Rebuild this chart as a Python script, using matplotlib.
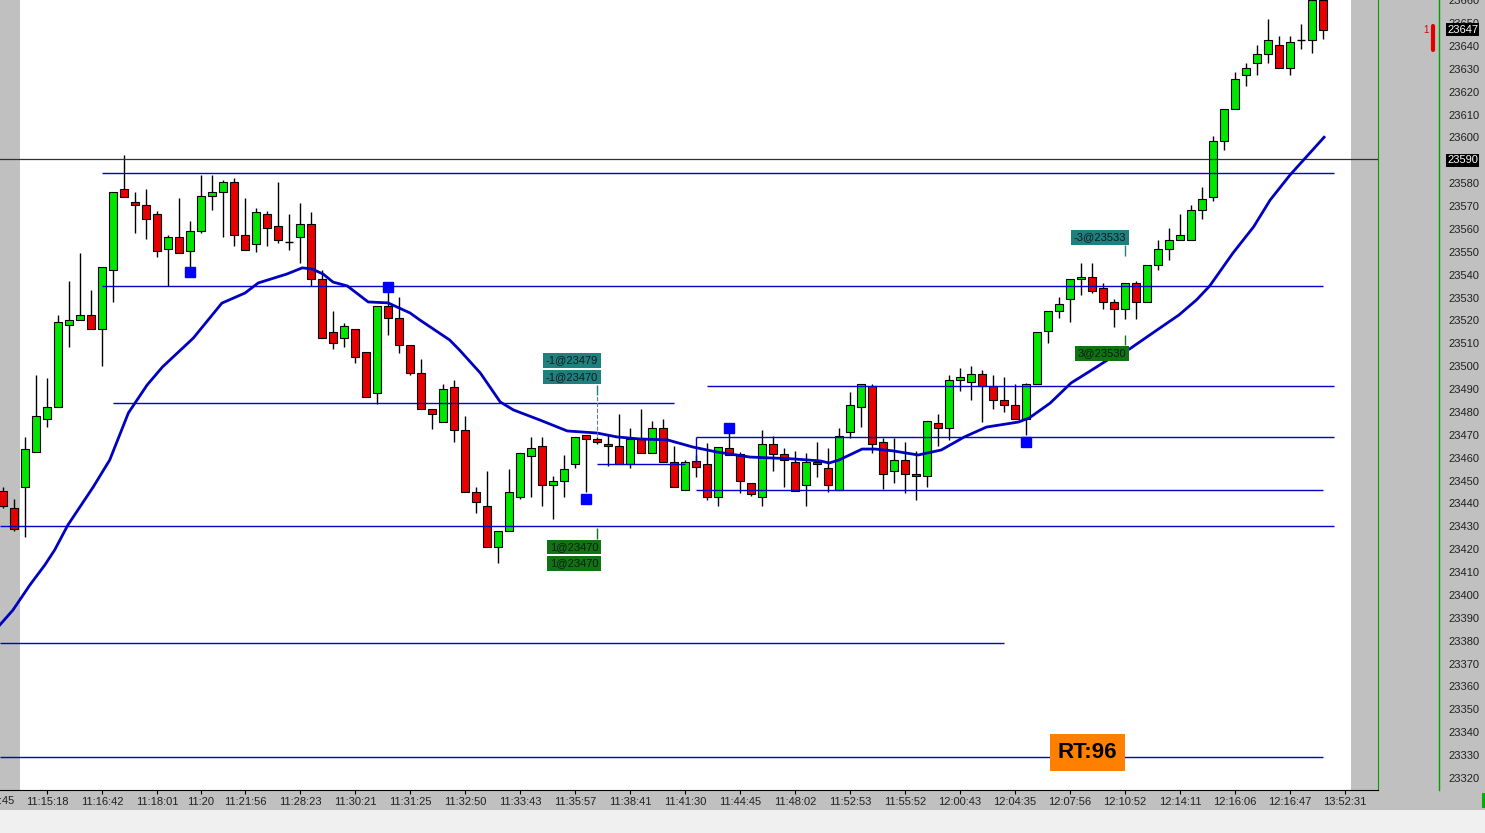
import matplotlib
matplotlib.use("Agg")
import matplotlib.pyplot as plt
from matplotlib.patches import Rectangle
from matplotlib.lines import Line2D
from matplotlib.transforms import blended_transform_factory

plt.rcParams['font.family'] = ['Liberation Sans', 'DejaVu Sans']

# OHLC per bar
opens = [23445.5, 23438.0, 23447.0, 23462.6, 23477.0, 23482.0, 23518.0, 23520.0, 23522.3, 23516.2,
         23542.0, 23577.4, 23572.0, 23570.3, 23566.4, 23551.1, 23556.4, 23550.2, 23559.0, 23574.3,
         23576.0, 23580.4, 23557.2, 23553.4, 23566.4, 23561.2, 23554.3, 23556.4, 23562.0, 23538.0,
         23515.1, 23512.2, 23516.2, 23506.1, 23488.2, 23526.3, 23521.0, 23509.2, 23496.9, 23481.2,
         23475.8, 23491.1, 23472.1, 23444.9, 23438.9, 23420.8, 23427.8, 23442.7, 23460.9, 23465.0,
         23448.0, 23449.7, 23457.1, 23469.8, 23468.2, 23465.9, 23465.0, 23457.1, 23468.3, 23461.9,
         23472.9, 23458.0, 23445.8, 23458.7, 23457.3, 23442.7, 23464.1, 23461.8, 23448.8, 23442.7,
         23465.9, 23461.8, 23458.0, 23448.0, 23458.1, 23455.6, 23445.9, 23471.1, 23482.0, 23491.4,
         23466.8, 23454.0, 23459.0, 23452.8, 23451.9, 23475.1, 23472.9, 23493.8, 23493.0, 23496.7,
         23491.2, 23485.1, 23482.9, 23476.8, 23492.1, 23515.3, 23524.0, 23529.3, 23538.0, 23539.1,
         23534.1, 23528.0, 23524.9, 23536.3, 23528.0, 23544.1, 23551.1, 23555.1, 23555.1, 23568.2,
         23574.1, 23598.3, 23612.3, 23627.2, 23632.4, 23636.3, 23640.3, 23630.2, 23642.5, 23642.5,
         23660.0]
highs = [23447.0, 23442.0, 23469.0, 23496.0, 23495.0, 23522.4, 23537.3, 23549.4, 23533.3, 23543.3,
         23576.0, 23592.3, 23576.0, 23577.4, 23568.0, 23557.4, 23573.4, 23563.5, 23583.6, 23583.6,
         23581.4, 23582.2, 23573.4, 23569.0, 23568.0, 23580.4, 23566.4, 23571.5, 23567.4, 23542.1,
         23524.0, 23519.0, 23516.2, 23506.1, 23526.3, 23532.6, 23530.4, 23509.2, 23503.2, 23481.2,
         23492.2, 23494.0, 23478.3, 23447.3, 23454.2, 23427.8, 23455.1, 23461.9, 23469.2, 23469.2,
         23452.0, 23461.1, 23469.1, 23469.8, 23469.0, 23470.2, 23479.1, 23473.0, 23481.2, 23476.1,
         23476.9, 23465.1, 23459.0, 23461.2, 23466.6, 23464.8, 23470.7, 23462.5, 23448.8, 23472.1,
         23469.6, 23464.4, 23463.0, 23461.9, 23466.9, 23464.1, 23472.9, 23488.9, 23492.1, 23492.1,
         23468.5, 23468.5, 23467.0, 23463.0, 23475.9, 23479.0, 23496.2, 23499.1, 23500.1, 23498.4,
         23496.2, 23495.4, 23492.1, 23492.8, 23515.1, 23524.0, 23530.1, 23538.0, 23545.3, 23545.3,
         23536.3, 23529.3, 23536.3, 23537.4, 23544.1, 23555.2, 23560.4, 23566.7, 23570.5, 23578.2,
         23600.7, 23612.3, 23628.8, 23632.4, 23640.4, 23651.8, 23644.4, 23644.4, 23649.6, 23661.0,
         23661.0]
lows = [23438.0, 23428.0, 23425.5, 23462.6, 23473.3, 23482.0, 23508.3, 23520.0, 23516.2, 23500.2,
        23528.2, 23574.0, 23558.4, 23555.5, 23547.6, 23535.1, 23549.4, 23542.8, 23558.4, 23568.3,
        23556.6, 23552.7, 23550.8, 23549.8, 23552.7, 23553.7, 23550.8, 23545.3, 23535.1, 23512.2,
        23507.4, 23508.5, 23501.3, 23486.7, 23483.5, 23513.7, 23505.7, 23496.0, 23481.2, 23472.4,
        23475.5, 23467.0, 23444.9, 23436.0, 23420.8, 23414.1, 23427.8, 23442.1, 23443.0, 23438.9,
        23433.1, 23443.0, 23455.4, 23444.9, 23466.0, 23456.4, 23457.1, 23455.4, 23461.9, 23461.9,
        23458.0, 23447.2, 23445.8, 23451.7, 23441.5, 23439.0, 23461.1, 23444.5, 23443.3, 23439.0,
        23454.3, 23447.3, 23445.6, 23439.0, 23451.5, 23445.2, 23445.9, 23468.5, 23473.6, 23461.9,
        23446.2, 23449.1, 23444.5, 23441.5, 23447.3, 23465.3, 23467.8, 23489.3, 23485.2, 23475.5,
        23481.3, 23480.0, 23476.8, 23470.0, 23492.1, 23510.3, 23521.2, 23519.5, 23531.1, 23532.0,
        23525.0, 23517.3, 23520.5, 23520.5, 23528.0, 23542.1, 23546.4, 23555.1, 23555.1, 23564.5,
        23572.4, 23594.7, 23612.3, 23622.7, 23627.5, 23632.7, 23630.2, 23627.5, 23638.8, 23636.8,
        23642.9]
closes = [23439.0, 23428.7, 23464.0, 23478.3, 23482.0, 23519.2, 23520.0, 23522.3, 23516.2, 23543.3,
          23576.0, 23574.1, 23570.3, 23564.2, 23550.2, 23556.4, 23549.4, 23559.1, 23574.3, 23576.0,
          23580.4, 23557.2, 23550.8, 23567.3, 23560.3, 23555.2, 23554.3, 23562.0, 23538.0, 23512.2,
          23510.0, 23517.7, 23503.9, 23486.7, 23526.3, 23521.0, 23509.2, 23496.9, 23481.2, 23479.0,
          23489.9, 23472.1, 23444.9, 23440.8, 23420.8, 23427.8, 23444.9, 23461.9, 23464.3, 23448.0,
          23449.7, 23454.9, 23469.1, 23468.1, 23466.8, 23465.0, 23457.1, 23468.2, 23461.9, 23472.9,
          23458.0, 23447.2, 23458.0, 23455.8, 23442.7, 23464.8, 23461.1, 23449.7, 23444.0, 23465.9,
          23461.8, 23458.9, 23445.6, 23458.0, 23457.3, 23448.0, 23469.6, 23483.1, 23492.1, 23465.9,
          23452.8, 23459.0, 23452.8, 23451.9, 23475.9, 23472.9, 23493.8, 23495.2, 23496.7, 23491.5,
          23485.1, 23482.9, 23476.8, 23492.1, 23515.1, 23524.0, 23527.1, 23538.0, 23539.1, 23533.0,
          23528.0, 23524.9, 23536.3, 23528.0, 23544.1, 23551.1, 23555.1, 23557.4, 23568.2, 23573.3,
          23598.3, 23612.3, 23625.4, 23630.2, 23636.3, 23642.5, 23630.2, 23641.6, 23642.5, 23660.0,
          23647.2]

# moving average line, read at points along the curve
ema_bars = [-0.27, 0.9, 2.45, 3.8, 4.7, 5.9, 8.2, 9.7, 11.4, 13.1, 14.5, 17.3, 19.9, 22.0, 23.2,
            25.8, 27.2, 28.1, 29.1, 30.0, 31.3, 33.2, 35.0, 37.0, 37.9, 40.6, 41.5, 43.4, 45.2,
            46.4, 48.8, 51.3, 54.0, 55.8, 57.9, 60.4, 62.7, 64.9, 67.9, 71.8, 74.3, 75.1, 76.0,
            78.1, 79.3, 80.9, 83.2, 85.3, 87.4, 89.4, 92.3, 93.3, 95.2, 97.1, 98.7, 100.4, 102.4,
            104.9, 106.9, 108.5, 109.7, 111.8, 113.7, 115.2, 117.0, 118.5, 120.1]
ema_vals = [23387.0, 23393.4, 23404.4, 23413.1, 23419.7, 23430.6, 23447.2, 23459.0, 23479.6, 23491.8,
            23499.7, 23512.3, 23527.6, 23532.0, 23536.4, 23540.3, 23543.0, 23542.5, 23540.3, 23536.8,
            23535.1, 23528.1, 23527.7, 23523.3, 23520.2, 23511.5, 23507.1, 23497.0, 23484.4, 23480.9,
            23476.5, 23471.7, 23470.8, 23469.1, 23468.2, 23467.8, 23464.7, 23462.5, 23460.3, 23459.5,
            23458.6, 23457.7, 23459.0, 23463.8, 23463.8, 23463.0, 23461.2, 23463.4, 23469.1, 23473.4,
            23475.6, 23477.4, 23483.9, 23492.7, 23497.5, 23502.7, 23507.5, 23515.8, 23522.4, 23529.0,
            23535.1, 23549.4, 23561.0, 23572.7, 23583.6, 23591.6, 23600.1]

# horizontal levels: price, first bar, last bar
levels = [23584.5, 23535.1, 23483.8, 23430.2, 23379.0, 23329.2, 23491.4, 23469.1, 23445.9, 23457.1]
level_start = [9, 9, 10, -0.3, -0.3, -0.3, 64, 63, 63, 54]
level_end = [121, 120, 61, 121, 91, 120, 121, 121, 120, 62]
last_level = 23590.6

signal_bars = [17, 35, 53, 66, 93]
signal_prices = [23541.2, 23534.6, 23442.0, 23473.0, 23466.9]

trade_text = ['-1@23479', '-1@23470', '1@23470', '1@23470', '-3@23533', '3@23530']
trade_bar = [54, 54, 54, 54, 102, 102]
trade_y = [23502.7, 23495.3, 23421.0, 23413.8, 23556.3, 23505.6]
trade_buy = [False, False, True, True, False, True]

time_ticks = [4, 9, 14, 18, 22, 27, 32, 37, 42, 47, 52, 57, 62, 67, 72, 77, 82, 87, 92, 97,
              102, 107, 112, 117, 122]
time_labels = ['11:15:18', '11:16:42', '11:18:01', '11:20', '11:21:56', '11:28:23', '11:30:21',
               '11:31:25', '11:32:50', '11:33:43', '11:35:57', '11:38:41', '11:41:30', '11:44:45',
               '11:48:02', '11:52:53', '11:55:52', '12:00:43', '12:04:35', '12:07:56', '12:10:52',
               '12:14:11', '12:16:06', '12:16:47', '13:52:31']

price_ticks = list(range(23320, 23661, 10))

W, H = 1485, 833
GRAY = '#c0c0c0'
UP, DOWN = '#00e600', '#e60000'
TEAL, BUYG = '#1f8080', '#117311'

fig = plt.figure(figsize=(W / 100, H / 100), dpi=100, facecolor='#f0f0f0')
fig.patches.append(Rectangle((0, 23 / H), 1, 1, transform=fig.transFigure,
                             fc=GRAY, ec='none', zorder=-10))
ax = fig.add_axes([0, 43 / H, 1378 / W, 790 / H])
ax.set_facecolor('white')
ax.set_xlim(-3 / 11, 1375 / 11)
ax.set_ylim(23314.75, 23660.1)

# shaded edges
ax.axvspan(-1, 17 / 11, color=GRAY, zorder=0, lw=0)
ax.axvspan(1348 / 11, 130, color=GRAY, zorder=0, lw=0)

# candles
n = len(opens)
bars = list(range(n))
ax.vlines(bars, lows, highs, colors='black', linewidth=1, zorder=3)
for i in bars:
    o, c = opens[i], closes[i]
    if c == o:
        ax.hlines(c, i - 0.32, i + 0.32, colors='black', linewidth=1, zorder=4)
    else:
        ax.add_patch(Rectangle((i - 0.32, min(o, c)), 0.64, abs(c - o),
                               fc=UP if c > o else DOWN, ec='black', lw=0.8, zorder=4))

# levels
for p, a, b in zip(levels, level_start, level_end):
    ax.hlines(p, a, b, colors='#0000c8', linewidth=1, zorder=5)
ax.vlines(63, 23457.1, 23469.1, colors='#0000c8', linewidth=1, zorder=5)
ax.axhline(last_level, color='#303030', linewidth=0.9, zorder=5)

ax.plot(ema_bars, ema_vals, color='#0000c0', linewidth=2, zorder=6)
ax.plot(signal_bars, signal_prices, 's', color='#0000ff', markersize=7, zorder=7)

# trade markers
for txt, b, y, buy in zip(trade_text, trade_bar, trade_y, trade_buy):
    ax.text(b + 0.1, y, txt, ha='right', va='center', fontsize=8, color='#0a1a1a', zorder=8,
            bbox=dict(boxstyle='square,pad=0.22', fc=BUYG if buy else TEAL, ec='none'))
ax.vlines(54, 23487.4, 23491.8, colors=TEAL, linewidth=1, zorder=8)
ax.vlines(54, 23469.5, 23487.4, colors='#608080', linewidth=0.8, linestyles='--', zorder=8)
ax.vlines(54, 23424.5, 23429.3, colors=BUYG, linewidth=1, zorder=8)
ax.vlines(102, 23548.2, 23553.0, colors=TEAL, linewidth=1, zorder=8)
ax.vlines(102, 23509.5, 23513.7, colors=BUYG, linewidth=1, zorder=8)

ax.text(98.6, 23331.1, 'RT:96', ha='center', va='center', fontsize=16, fontweight='bold',
        color='black', zorder=9,
        bbox=dict(boxstyle='square,pad=0.35', fc='#ff8000', ec='none'))

# axes styling
for s in ['top', 'left']:
    ax.spines[s].set_visible(False)
ax.spines['right'].set_color('#00a000')
ax.spines['bottom'].set_color('black')
ax.yaxis.tick_right()
ax.set_yticks(price_ticks)
ax.set_yticklabels([str(p) for p in price_ticks])
ax.tick_params(axis='y', length=0, pad=51, labelsize=8, labelcolor='#202020')
ax.set_xticks(time_ticks)
ax.set_xticklabels(time_labels)
ax.tick_params(axis='x', length=3, pad=2, labelsize=8, labelcolor='#202020')

tr = blended_transform_factory(ax.transAxes, ax.transData)
for p in [closes[-1], 23590]:
    ax.text(1 + 69 / 1378, p, str(int(round(p))), transform=tr, ha='left', va='center',
            fontsize=8, color='white', zorder=10, clip_on=False,
            bbox=dict(boxstyle='square,pad=0.12', fc='black', ec='none'))

fig.add_artist(Line2D([1439 / W] * 2, [43 / H, 1], transform=fig.transFigure,
                      color='#00a000', lw=1))
fig.text(14 / W, 32 / H, ':45', ha='right', va='center', fontsize=8, color='#202020')
fig.text(1429 / W, (H - 30) / H, '1', ha='right', va='center', fontsize=7, color='#e00000')
fig.add_artist(Line2D([1433 / W] * 2, [(H - 26) / H, (H - 50) / H], transform=fig.transFigure,
                      color='#e00000', lw=3, solid_capstyle='round'))
fig.patches.append(Rectangle((1482 / W, 25 / H), 3 / W, 15 / H, transform=fig.transFigure,
                             fc='#00b000', ec='none'))

fig.savefig('out.png', dpi=100, facecolor=fig.get_facecolor())
